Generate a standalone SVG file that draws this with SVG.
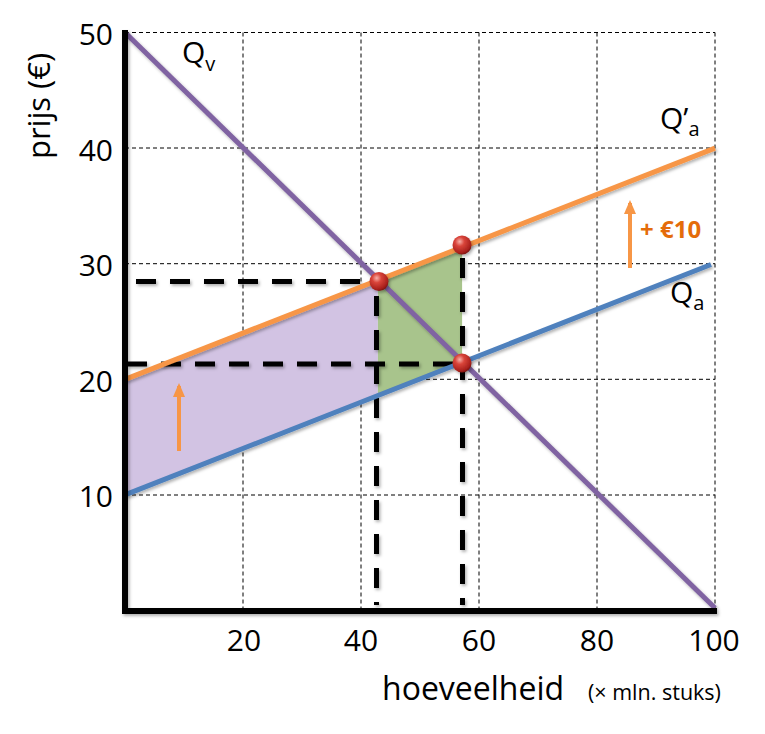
<svg xmlns="http://www.w3.org/2000/svg" width="765" height="734" viewBox="0 0 765 734">
  <style>
    .grid { stroke:#000; stroke-width:1; stroke-dasharray:4 3; fill:none; }
    .axis { stroke:#000; stroke-width:6; fill:none; stroke-linecap:square; }
    .curve { stroke-width:5; fill:none; }
    .guide { stroke:#000; stroke-width:5; stroke-dasharray:20 14; fill:none; }
    .lbl { font-family:"Open Sans","Liberation Sans",sans-serif; fill:#000; }
    .num { font-size:30px; }
    .shift { stroke:#F79646; stroke-width:4; fill:none; }
  </style>
  <defs>
    <filter id="sh" x="-10%" y="-10%" width="120%" height="120%">
      <feDropShadow dx="1.5" dy="2" stdDeviation="1.5" flood-color="#000" flood-opacity="0.3"/>
    </filter>
    <radialGradient id="ball" cx="0.38" cy="0.32" r="0.7">
      <stop offset="0" stop-color="#F7B0A8"/>
      <stop offset="0.35" stop-color="#D9443A"/>
      <stop offset="0.85" stop-color="#A8201C"/>
      <stop offset="1" stop-color="#7A1512"/>
    </radialGradient>
    <marker id="ah" markerWidth="14" markerHeight="12" refX="11" refY="6" orient="auto" markerUnits="userSpaceOnUse" viewBox="0 0 14 12">
      <path d="M0,0 L14,6 L0,12 Z" fill="#F79646"/>
    </marker>
  </defs>

  <rect width="765" height="734" fill="#fff"/>

  <g id="grid">
    <path class="grid" d="M243,32.5V610 M361,32.5V610 M479,32.5V610 M597,32.5V610 M715,32.5V610"/>
    <path class="grid" d="M125,32.5H715 M125,148H715 M125,263.7H715 M125,379.3H715 M125,495H715"/>
  </g>

  <g id="areas">
    <polygon id="area-purple" points="125,379.3 377.9,280.2 377.9,395.8 125,494.9" fill="#D2C3E3"/>
    <polygon id="area-green" points="377.9,280.2 462.1,247.2 462.1,362.8 377.9,395.8" fill="#A8C48C"/>
  </g>

  <g id="connectors">
    <g id="guides" filter="url(#sh)">
      <path class="guide" d="M136,281.5H376"/>
      <path class="guide" d="M127,364H460"/>
      <path class="guide" d="M376.5,296V605"/>
      <path class="guide" d="M462.5,258V605"/>
    </g>
    <g id="curves" filter="url(#sh)">
      <path id="Qa" class="curve" stroke="#4F81BD" d="M125,494.9L711,264.5"/>
      <path id="Qa-prime" class="curve" stroke="#F79646" d="M125,379.3L715,148.1"/>
      <path id="Qv" class="curve" stroke="#8064A2" d="M125,32.5L715,608"/>
    </g>
    <g id="shifts">
      <path class="shift" d="M630,268V203" marker-end="url(#ah)"/>
      <path class="shift" d="M179,451V386" marker-end="url(#ah)"/>
    </g>
  </g>

  <g id="axes" filter="url(#sh)">
    <path class="axis" d="M125,33V611H714"/>
  </g>

  <g id="points" filter="url(#sh)">
    <circle id="p1" cx="379" cy="281.5" r="9.5" fill="url(#ball)"/>
    <circle id="p2" cx="462" cy="245" r="9.5" fill="url(#ball)"/>
    <circle id="p3" cx="462" cy="363" r="9.5" fill="url(#ball)"/>
  </g>

  <g id="labels" class="lbl">
    <g id="y-ticks" class="num" text-anchor="end">
      <text x="113" y="45">50</text>
      <text x="113" y="161">40</text>
      <text x="113" y="276">30</text>
      <text x="113" y="392">20</text>
      <text x="113" y="507">10</text>
    </g>
    <g id="x-ticks" class="num" text-anchor="middle">
      <text x="244" y="651">20</text>
      <text x="361" y="651">40</text>
      <text x="479" y="651">60</text>
      <text x="597" y="651">80</text>
      <text x="714" y="651">100</text>
    </g>
    <text id="y-title" transform="translate(50,106) rotate(-90)" text-anchor="middle" font-size="31">prijs (€)</text>
    <text id="x-title" x="382" y="700" font-size="32">hoeveelheid</text>
    <text id="x-unit" x="588" y="700" font-size="21.5">(× mln. stuks)</text>
    <text id="lbl-Qv" x="182" y="63" font-size="30">Q<tspan font-size="20" dy="8">v</tspan></text>
    <text id="lbl-Qap" x="660" y="129" font-size="30">Q’<tspan font-size="20" dy="7">a</tspan></text>
    <text id="lbl-Qa" x="670" y="303" font-size="30">Q<tspan font-size="20" dy="7">a</tspan></text>
    <text id="lbl-plus10" x="640" y="238" font-size="24" font-weight="bold" fill="#E46C0A">+ €10</text>
  </g>
</svg>
